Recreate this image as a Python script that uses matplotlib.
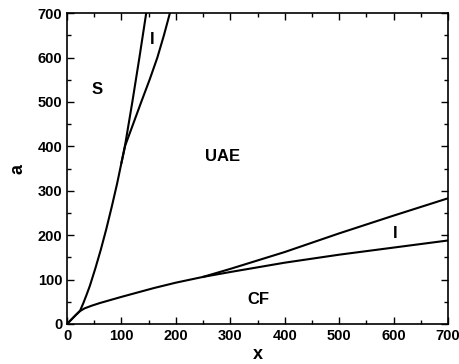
import matplotlib
matplotlib.use('Agg')
import matplotlib.pyplot as plt
from matplotlib.ticker import MultipleLocator

plt.rcParams['font.family'] = ['Liberation Sans', 'DejaVu Sans']
plt.rcParams['font.weight'] = 'bold'

# S / UAE boundary (steep curve)
s_x = [0, 8, 16, 24, 30, 36, 42, 52, 62, 72, 82, 92, 100, 107, 120, 133, 145.5]
s_y = [0, 10, 20, 30, 47, 66, 86, 125, 167, 213, 263, 316, 363, 405, 500, 600, 700]

# upper I / UAE boundary
i_up_x = [100, 107, 122, 137, 152, 166, 178, 189]
i_up_y = [363, 402, 452, 502, 551, 600, 650, 700]

# CF boundary (lower curve)
cf_x = [0, 8, 16, 24, 32, 45, 60, 80, 100, 130, 160, 200, 250, 300, 400, 500, 600, 700]
cf_y = [0, 10, 20, 29, 35, 41, 47, 54, 61, 71, 81, 93, 106, 117, 138, 156, 172, 188]

# lower I / UAE boundary
i_low_x = [250, 275, 300, 350, 400, 500, 600, 700]
i_low_y = [106, 115, 124, 143, 162, 204, 244, 283]

# region labels
region_names = ['S', 'I', 'UAE', 'I', 'CF']
region_x = [55, 156, 285, 602, 352]
region_y = [527, 640, 376, 203, 54]

fig = plt.figure(figsize=(4.6, 3.64), dpi=100)
ax = fig.add_axes([0.1457, 0.11, 0.8283, 0.854])

for xs, ys in [(s_x, s_y), (i_up_x, i_up_y), (cf_x, cf_y), (i_low_x, i_low_y)]:
    ax.plot(xs, ys, color='black', linewidth=1.5, solid_joinstyle='round')

for name, tx, ty in zip(region_names, region_x, region_y):
    ax.text(tx, ty, name, fontsize=12, fontweight='bold', ha='center', va='center')

ax.set_xlim(0, 700)
ax.set_ylim(0, 700)
ax.xaxis.set_major_locator(MultipleLocator(100))
ax.yaxis.set_major_locator(MultipleLocator(100))
ax.xaxis.set_minor_locator(MultipleLocator(50))
ax.yaxis.set_minor_locator(MultipleLocator(50))
ax.tick_params(which='both', direction='in', top=True, right=True, labelsize=10.5)
ax.tick_params(which='major', length=5, width=1)
ax.tick_params(which='minor', length=3, width=1)
for lab in ax.get_xticklabels() + ax.get_yticklabels():
    lab.set_fontweight('bold')
for sp in ax.spines.values():
    sp.set_linewidth(1.2)

ax.set_xlabel('x', fontsize=13, fontweight='bold', labelpad=2)
ax.set_ylabel('a', fontsize=13, fontweight='bold', labelpad=8)

fig.savefig('out.png', dpi=100)
